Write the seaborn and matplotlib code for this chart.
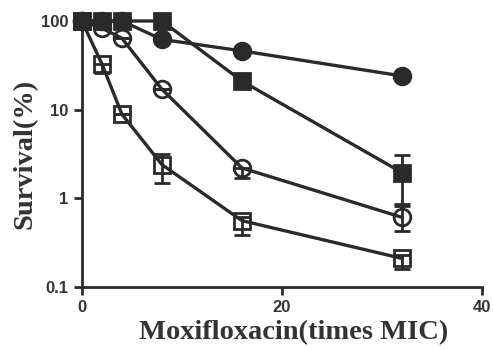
import numpy as np
import pandas as pd
import seaborn as sns
import matplotlib.pyplot as plt

# times MIC
dose = [0, 2, 4, 8, 16, 32]

# survival (%) per series
filled_circle = [100, 100, 100, 62, 46, 24]
filled_square = [100, 100, 100, 100, 21, 1.95]
open_circle = [100, 83, 64, 17, 2.2, 0.61]
open_square = [100, 33, 8.9, 2.4, 0.56, 0.21]

# error bar bounds (low, high)
filled_square_lo = [100, 100, 100, 100, 21, 0.86]
filled_square_hi = [100, 100, 100, 100, 21, 3.1]
open_circle_lo = [100, 83, 64, 17, 1.7, 0.43]
open_circle_hi = [100, 83, 64, 17, 2.2, 0.83]
open_square_lo = [100, 26, 8.9, 1.5, 0.39, 0.16]
open_square_hi = [100, 33, 8.9, 3.2, 0.62, 0.23]

color = "#2a2a2a"

sns.set_style("ticks")
plt.rcParams["font.family"] = ["Liberation Sans", "DejaVu Sans"]

fig = plt.figure(figsize=(4.93, 3.5), dpi=100)
ax = fig.add_axes([0.166, 0.18, 0.812, 0.76])

series = [
    ("open_square", open_square, "s", "none", open_square_lo, open_square_hi),
    ("open_circle", open_circle, "o", "none", open_circle_lo, open_circle_hi),
    ("filled_circle", filled_circle, "o", color, None, None),
    ("filled_square", filled_square, "s", color, filled_square_lo, filled_square_hi),
]

for name, vals, mk, fc, lo, hi in series:
    df = pd.DataFrame({"dose": dose, "survival": vals})
    if lo is not None:
        v = np.array(vals)
        yerr = [v - np.array(lo), np.array(hi) - v]
        ax.errorbar(dose, vals, yerr=yerr, fmt="none", ecolor=color,
                    elinewidth=2, capsize=6, capthick=2, zorder=2)
    sns.lineplot(data=df, x="dose", y="survival", ax=ax, color=color,
                 marker=mk, markersize=11 if mk == "s" else 12,
                 markerfacecolor=fc, markeredgecolor=color,
                 markeredgewidth=2, linewidth=2.4, zorder=3, clip_on=False)

ax.set_yscale("log")
ax.set_ylim(0.1, 100)
ax.set_xlim(0, 40)
ax.set_xticks([0, 20, 40])
ax.set_yticks([0.1, 1, 10, 100])
ax.set_yticklabels(["0.1", "1", "10", "100"])
ax.yaxis.set_minor_locator(plt.NullLocator())
ax.tick_params(width=2, length=6, labelsize=12, color=color)
for lab in ax.get_xticklabels() + ax.get_yticklabels():
    lab.set_fontweight("bold")
    lab.set_color("#333333")
ax.spines[["top", "right"]].set_visible(False)
for s in ["left", "bottom"]:
    ax.spines[s].set_linewidth(2)
    ax.spines[s].set_color(color)

label_font = dict(family=["Liberation Serif", "DejaVu Serif"],
                  fontweight="bold", fontsize=20.5, color="#333333")
ax.set_xlabel("Moxifloxacin(times MIC)", **label_font)
ax.set_ylabel("Survival(%)", **label_font)
ax.xaxis.set_label_coords(0.53, -0.125)
ax.yaxis.set_label_coords(-0.11, 0.5)

fig.savefig("out.png", dpi=100)
